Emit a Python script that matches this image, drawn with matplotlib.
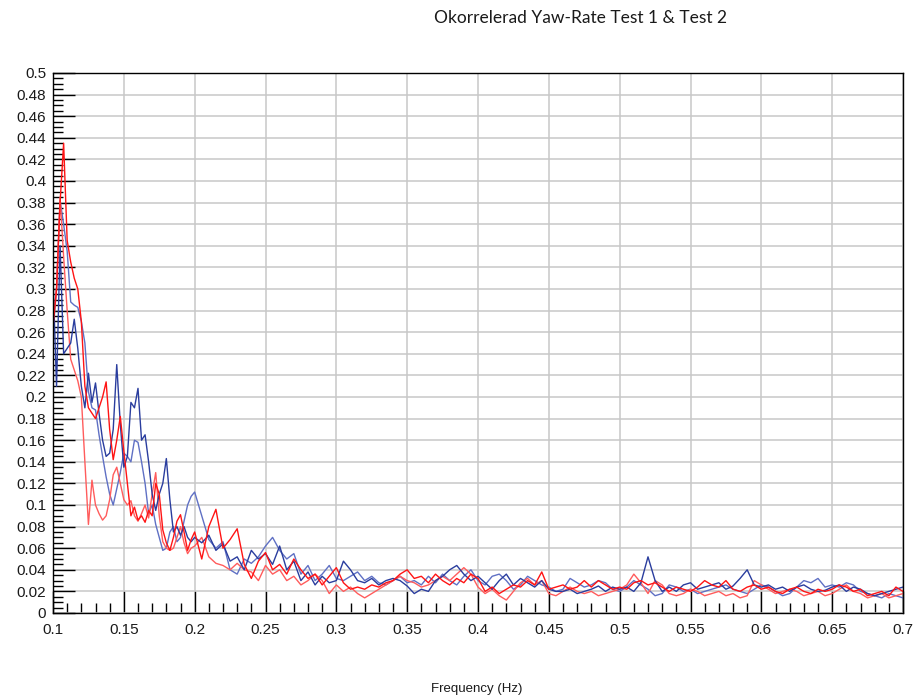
import numpy as np
import matplotlib
matplotlib.use("Agg")
import matplotlib.pyplot as plt
from matplotlib.ticker import MultipleLocator

# ---------------- data ----------------
freq_head = np.round(np.arange(0.1, 0.19999, 0.0025), 4)   # 0.1 .. 0.1975
freq_tail = np.round(np.arange(0.2, 0.70001, 0.005), 3)    # 0.2 .. 0.7

blue_dark_head = [0.31, 0.21, 0.34, 0.24, 0.245, 0.25, 0.272, 0.245, 0.21, 0.19,
                  0.222, 0.195, 0.213, 0.185, 0.16, 0.145, 0.148, 0.17, 0.23, 0.175,
                  0.135, 0.145, 0.195, 0.19, 0.208, 0.16, 0.165, 0.14, 0.11, 0.095,
                  0.11, 0.12, 0.143, 0.105, 0.075, 0.08, 0.072, 0.08, 0.07, 0.066]
blue_dark_tail = [0.070, 0.065, 0.072, 0.058, 0.064, 0.048, 0.052, 0.040, 0.058, 0.050,
                  0.055, 0.045, 0.062, 0.040, 0.048, 0.030, 0.038, 0.026, 0.034, 0.028,
                  0.030, 0.048, 0.040, 0.030, 0.028, 0.032, 0.026, 0.030, 0.032, 0.030,
                  0.025, 0.018, 0.022, 0.020, 0.030, 0.034, 0.040, 0.044, 0.036, 0.030,
                  0.034, 0.028, 0.022, 0.030, 0.036, 0.026, 0.032, 0.028, 0.024, 0.030,
                  0.022, 0.020, 0.020, 0.022, 0.018, 0.020, 0.022, 0.025, 0.020, 0.024,
                  0.022, 0.024, 0.020, 0.028, 0.052, 0.030, 0.020, 0.024, 0.020, 0.026,
                  0.028, 0.022, 0.024, 0.026, 0.028, 0.022, 0.025, 0.032, 0.040, 0.026,
                  0.024, 0.026, 0.022, 0.024, 0.020, 0.024, 0.026, 0.022, 0.020, 0.021,
                  0.024, 0.026, 0.020, 0.024, 0.022, 0.018, 0.016, 0.018, 0.020, 0.022,
                  0.024]

blue_light_head = [0.26, 0.30, 0.382, 0.36, 0.335, 0.288, 0.285, 0.283, 0.27, 0.25,
                   0.205, 0.19, 0.188, 0.165, 0.145, 0.126, 0.11, 0.10, 0.115, 0.13,
                   0.148, 0.145, 0.14, 0.16, 0.158, 0.14, 0.12, 0.092, 0.10, 0.082,
                   0.07, 0.058, 0.06, 0.075, 0.08, 0.066, 0.07, 0.085, 0.10, 0.108]
blue_light_tail = [0.112, 0.090, 0.068, 0.060, 0.066, 0.040, 0.036, 0.050, 0.046, 0.052,
                   0.062, 0.070, 0.058, 0.050, 0.055, 0.036, 0.044, 0.030, 0.036, 0.044,
                   0.032, 0.030, 0.034, 0.038, 0.030, 0.034, 0.028, 0.026, 0.030, 0.034,
                   0.028, 0.030, 0.026, 0.034, 0.028, 0.036, 0.030, 0.026, 0.034, 0.040,
                   0.030, 0.026, 0.034, 0.036, 0.030, 0.022, 0.026, 0.034, 0.030, 0.026,
                   0.024, 0.020, 0.022, 0.032, 0.028, 0.024, 0.026, 0.030, 0.028, 0.022,
                   0.020, 0.024, 0.030, 0.026, 0.022, 0.016, 0.018, 0.026, 0.024, 0.020,
                   0.022, 0.018, 0.020, 0.022, 0.024, 0.026, 0.022, 0.020, 0.018, 0.022,
                   0.026, 0.024, 0.020, 0.016, 0.018, 0.024, 0.030, 0.028, 0.032, 0.024,
                   0.026, 0.024, 0.028, 0.026, 0.020, 0.018, 0.016, 0.014, 0.018, 0.016,
                   0.014]

red_bright_head = [0.265, 0.30, 0.38, 0.435, 0.345, 0.325, 0.31, 0.30, 0.27, 0.21,
                   0.19, 0.185, 0.18, 0.19, 0.20, 0.214, 0.17, 0.142, 0.16, 0.182,
                   0.15, 0.12, 0.09, 0.098, 0.086, 0.09, 0.084, 0.095, 0.09, 0.12,
                   0.11, 0.077, 0.065, 0.058, 0.07, 0.085, 0.091, 0.075, 0.058, 0.068]
red_bright_tail = [0.075, 0.050, 0.080, 0.096, 0.060, 0.068, 0.078, 0.045, 0.032, 0.048,
                   0.056, 0.040, 0.045, 0.036, 0.050, 0.040, 0.032, 0.036, 0.026, 0.034,
                   0.042, 0.028, 0.022, 0.024, 0.022, 0.026, 0.024, 0.028, 0.030, 0.036,
                   0.040, 0.032, 0.034, 0.028, 0.036, 0.030, 0.026, 0.032, 0.028, 0.036,
                   0.032, 0.020, 0.024, 0.018, 0.022, 0.026, 0.024, 0.030, 0.026, 0.038,
                   0.022, 0.024, 0.026, 0.022, 0.024, 0.030, 0.024, 0.030, 0.026, 0.022,
                   0.024, 0.022, 0.028, 0.030, 0.026, 0.028, 0.024, 0.020, 0.024, 0.022,
                   0.020, 0.024, 0.030, 0.026, 0.024, 0.030, 0.022, 0.020, 0.024, 0.026,
                   0.022, 0.024, 0.020, 0.018, 0.022, 0.024, 0.020, 0.018, 0.022, 0.020,
                   0.022, 0.026, 0.024, 0.020, 0.022, 0.016, 0.018, 0.020, 0.016, 0.024,
                   0.020]

red_light_head = [0.27, 0.30, 0.385, 0.33, 0.28, 0.235, 0.225, 0.215, 0.20, 0.14,
                  0.082, 0.123, 0.10, 0.092, 0.086, 0.09, 0.105, 0.128, 0.135, 0.12,
                  0.105, 0.10, 0.104, 0.09, 0.085, 0.092, 0.10, 0.088, 0.11, 0.13,
                  0.09, 0.066, 0.06, 0.058, 0.06, 0.07, 0.08, 0.065, 0.055, 0.06]
red_light_tail = [0.062, 0.070, 0.052, 0.046, 0.044, 0.040, 0.046, 0.040, 0.038, 0.030,
                  0.044, 0.036, 0.040, 0.030, 0.034, 0.026, 0.030, 0.036, 0.030, 0.018,
                  0.026, 0.020, 0.024, 0.018, 0.014, 0.018, 0.022, 0.026, 0.030, 0.034,
                  0.030, 0.028, 0.024, 0.026, 0.030, 0.034, 0.030, 0.036, 0.042, 0.036,
                  0.024, 0.018, 0.022, 0.016, 0.012, 0.020, 0.028, 0.032, 0.026, 0.030,
                  0.018, 0.016, 0.020, 0.024, 0.020, 0.018, 0.020, 0.016, 0.018, 0.020,
                  0.022, 0.026, 0.036, 0.028, 0.018, 0.030, 0.026, 0.018, 0.016, 0.018,
                  0.022, 0.020, 0.016, 0.018, 0.020, 0.016, 0.018, 0.014, 0.016, 0.030,
                  0.026, 0.022, 0.018, 0.020, 0.022, 0.020, 0.016, 0.018, 0.020, 0.016,
                  0.018, 0.022, 0.026, 0.020, 0.018, 0.014, 0.016, 0.018, 0.014, 0.016,
                  0.018]

title_text = "Okorrelerad Yaw-Rate Test 1 & Test 2"
xlabel_text = "Frequency (Hz)"

freq = np.concatenate([freq_head, freq_tail])
series = [
    (np.array(blue_light_head + blue_light_tail), "#5f70c4"),
    (np.array(red_light_head + red_light_tail), "#ff5c5c"),
    (np.array(blue_dark_head + blue_dark_tail), "#2a3d9e"),
    (np.array(red_bright_head + red_bright_tail), "#ff1414"),
]

# ---------------- figure ----------------
fig = plt.figure(figsize=(9.16, 6.99), dpi=100)
fig.patch.set_facecolor("white")
ax = fig.add_axes([53 / 916, 86 / 699, 850 / 916, 540 / 699])

for vals, col in series:
    ax.plot(freq, vals, color=col, linewidth=1.0, zorder=3)

ax.set_xlim(0.1, 0.7)
ax.set_ylim(0, 0.5)

ax.xaxis.set_major_locator(MultipleLocator(0.05))
ax.xaxis.set_minor_locator(MultipleLocator(0.01))
ax.yaxis.set_major_locator(MultipleLocator(0.02))
ax.yaxis.set_minor_locator(MultipleLocator(0.005))

def fmt(v, pos):
    s = ("%.2f" % v).rstrip("0").rstrip(".")
    return s if s else "0"
ax.xaxis.set_major_formatter(plt.FuncFormatter(fmt))
ax.yaxis.set_major_formatter(plt.FuncFormatter(fmt))

ax.grid(True, which="major", color="#c8c8c8", linewidth=1.1, zorder=0)
ax.set_axisbelow(True)

ax.tick_params(axis="both", which="major", direction="in", length=16, width=1,
               color="black", labelcolor="#1a1a1a", labelsize=11,
               top=False, right=False)
ax.tick_params(axis="both", which="minor", direction="in", length=7.5, width=1,
               color="black", top=False, right=False)
ax.tick_params(axis="x", which="major", pad=7)
ax.tick_params(axis="y", which="major", pad=5)
for lbl in ax.get_xticklabels() + ax.get_yticklabels():
    lbl.set_fontfamily("Liberation Sans")

for sp in ax.spines.values():
    sp.set_color("black")
    sp.set_linewidth(1)
    sp.set_zorder(5)

fig.text(581 / 916, 1 - 18 / 699, title_text, ha="center", va="center",
         fontsize=12.5, family="Lato", color="#1a1a1a")
fig.text(477 / 916, 1 - 689 / 699, xlabel_text, ha="center", va="center",
         fontsize=9.5, family="Liberation Sans", color="#1a1a1a")

fig.savefig("out.png", dpi=100, facecolor="white")
